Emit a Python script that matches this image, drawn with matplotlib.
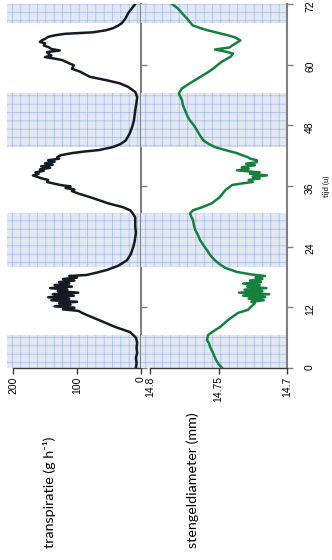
import matplotlib
matplotlib.use("Agg")
import matplotlib.pyplot as plt

# tijd (u) en transpiratie (g/h)
t_trans = [0, 1, 2, 3, 4, 5, 6, 6.5, 7.1, 8.1, 9.5, 10.5, 10.9,
           11.3, 11.6, 11.9, 12.2, 12.5, 12.8, 13.1, 13.4, 13.7, 14.0, 14.3, 14.6,
           14.9, 15.2, 15.5, 15.8, 16.1, 16.4, 16.7, 17.0, 17.3, 17.6, 17.9, 18.2,
           18.4, 18.9, 19.4, 20.2, 21.3, 22.5, 24, 25, 26.7, 28, 29.8, 30.6,
           31.2, 31.8, 32.6, 33.6, 34.2, 34.6, 35.0, 35.3, 35.6, 35.9, 36.2, 36.5,
           36.8, 37.2, 37.5, 37.8, 38.1, 38.4, 38.7, 39.0, 39.3, 39.6, 39.9, 40.2,
           40.5, 40.8, 41.1, 41.4, 41.7, 42.1, 42.5, 42.8, 43.1, 43.7, 44.3, 45,
           46.3, 47.6, 49, 51, 52.5, 53.6, 54.6,
           55.6, 56.3, 56.9, 57.6, 58.6, 59.2, 59.9, 60.2, 60.6, 60.9, 61.2, 61.5,
           61.8, 62.2, 62.5, 62.8, 63.1, 63.5, 63.8, 64.2, 64.5, 64.8, 65.1, 65.5,
           65.8, 66.1, 66.4, 66.8, 67.2, 67.7, 68.2, 69.2, 70.2, 71.2, 72]
transpiratie = [8, 7, 8, 6, 7, 6, 8, 12, 17, 40, 66, 85, 92,
                98, 122, 104, 135, 110, 128, 100, 140, 112, 145, 105, 138,
                98, 130, 115, 142, 108, 135, 112, 128, 104, 122, 100, 112,
                85, 68, 53, 36, 22, 16, 12, 10, 8, 9, 9, 13,
                17, 28, 52, 75, 90, 100, 108, 104, 118, 110, 126, 137,
                147, 145, 155, 162, 169, 160, 165, 152, 158, 142, 156, 138,
                150, 135, 145, 128, 131, 125, 108, 90, 66, 44, 32, 24,
                18, 14, 11, 9, 7, 6, 9,
                20, 33, 53, 80, 95, 108, 105, 111, 118, 123, 135, 150,
                140, 145, 147, 127, 140, 145, 152, 150, 158, 155, 150, 145,
                135, 119, 75, 55, 44, 36, 30, 24, 20, 14, 9]

# tijd (u) en stengeldiameter (mm)
t_stengel = [0, 0.8, 1.6, 2.3, 3, 3.6, 4.2, 4.9, 5.5, 6.5, 7.1, 8.1, 9.5, 10.9,
             11.5, 12.2, 12.8, 13.1, 13.4, 13.7, 14.0, 14.3, 14.6, 14.9, 15.2,
             15.5, 15.8, 16.1, 16.4, 16.7, 17.0, 17.3, 17.6, 17.9, 18.2, 18.5,
             19.0, 19.8, 20.5, 21.3, 22.3, 23.3, 24.3, 25.3, 26.3, 27.3, 28.3,
             29.2, 30.0, 30.6, 31.2, 31.8, 32.6, 33.2, 33.8, 34.5, 35.2, 35.6,
             36.2, 36.5, 36.8, 37.2, 37.5, 37.8, 38.1, 38.4, 38.7, 39.1, 39.4,
             39.7, 40.1, 40.4, 40.7, 41.1, 41.4, 41.7, 42.1, 42.5, 43.1, 43.7,
             44.3, 45, 46, 47, 48, 49, 50, 51, 52, 53, 54.3, 55.3, 56.3, 57.3,
             58.5, 59.2, 60, 60.5, 61, 61.6, 62.2, 62.6, 63, 63.4, 63.8, 64.3,
             64.8, 65.1, 65.4, 65.8, 66.2, 66.8, 67.3, 67.8, 68.8, 70.2, 71.2, 72]
stengeldiameter = [14.7474, 14.750, 14.7518, 14.753, 14.754, 14.7552, 14.7562,
                   14.757, 14.7584, 14.7577, 14.7547, 14.7489, 14.743, 14.7358,
                   14.7285, 14.726, 14.7234, 14.726, 14.717, 14.728, 14.716,
                   14.732, 14.713, 14.735, 14.718, 14.731, 14.715, 14.729, 14.72,
                   14.732, 14.719, 14.727, 14.718, 14.723, 14.716, 14.726,
                   14.7365, 14.745, 14.749, 14.7526, 14.756, 14.7584, 14.761,
                   14.7635, 14.765, 14.767, 14.768, 14.7686, 14.770, 14.7708,
                   14.7686, 14.762, 14.7547, 14.752, 14.749, 14.747, 14.745,
                   14.743, 14.74, 14.733, 14.725, 14.728, 14.72, 14.725, 14.7146,
                   14.727, 14.72, 14.7365, 14.728, 14.733, 14.7234, 14.73, 14.722,
                   14.722, 14.727, 14.7285, 14.733, 14.7365, 14.745, 14.7526,
                   14.757, 14.761, 14.7635, 14.7657, 14.768, 14.771, 14.773,
                   14.7745, 14.776, 14.7767, 14.779, 14.7767, 14.771, 14.765,
                   14.7577, 14.754, 14.7504, 14.748, 14.745, 14.741, 14.7394,
                   14.745, 14.7526, 14.742, 14.740, 14.737, 14.734, 14.736,
                   14.738, 14.743, 14.749, 14.758, 14.764, 14.769, 14.772,
                   14.7767, 14.780, 14.784]

# nachtperiodes (u)
nacht_start = [0, 20, 43.7, 68.2]
nacht_eind = [6.5, 30.6, 54.3, 72]

tijd_ticks = [0, 12, 24, 36, 48, 60, 72]

plt.rcParams['font.family'] = ['Liberation Sans', 'DejaVu Sans']
plt.rcParams['hatch.linewidth'] = 0.5

W, H = 332, 560
fig = plt.figure(figsize=(W / 100, H / 100), dpi=100)

def box(x0, x1, y0, y1):
    return [x0 / W, 1 - y1 / H, (x1 - x0) / W, (y1 - y0) / H]

ax1 = fig.add_axes(box(7, 141, 4, 368))
ax2 = fig.add_axes(box(141, 287, 4, 368))

for ax in (ax1, ax2):
    ax.set_facecolor('none')
    ax.set_ylim(0, 72)
    for a, b in zip(nacht_start, nacht_eind):
        ax.axhspan(a, b, facecolor='#dde5f4', edgecolor='#e6ecf8', hatch='++++++', lw=0, zorder=0)
        ax.axhspan(a, b, facecolor='none', edgecolor='#a9bbe3', hatch='++', lw=0, zorder=0)
    ax.spines['top'].set_visible(False)
    ax.spines['left'].set_visible(False)
    ax.spines['right'].set_color('#808080')
    ax.spines['right'].set_linewidth(1.5)
    ax.spines['bottom'].set_color('#3a3a3a')
    ax.spines['bottom'].set_linewidth(1.0)
    ax.yaxis.tick_right()
    ax.set_yticks(tijd_ticks)
    ax.tick_params(axis='y', direction='out', length=4, width=1, color='#808080', labelsize=7.5, pad=9)
    ax.tick_params(axis='x', direction='out', length=4, width=1, color='#3a3a3a', labelsize=7.5, pad=2)

ax1.plot(transpiratie, t_trans, color='#161a22', lw=1.8, zorder=3)
ax1.set_xlim(209.4, 0)
ax1.set_xticks([0, 100, 200])
ax1.set_xticklabels(['0', '100', '200'], rotation=90)
ax1.spines['bottom'].set_bounds(0, 200)
ax1.tick_params(axis='y', labelright=False)

ax2.plot(stengeldiameter, t_stengel, color='#17803f', lw=1.8, zorder=3)
ax2.set_xlim(14.8066, 14.7)
ax2.set_xticks([14.8, 14.75, 14.7])
ax2.set_xticklabels(['14.8', '14.75', '14.7'], rotation=90)
ax2.spines['bottom'].set_bounds(14.7, 14.8)
ax2.set_yticklabels([str(v) for v in tijd_ticks], rotation=90)

fig.text(49 / W, 1 - 548 / H, 'transpiratie (g h⁻¹)', rotation=90, ha='center', va='bottom',
         fontsize=10.3, family=['Lato', 'DejaVu Sans'])
fig.text(193 / W, 1 - 548 / H, 'stengeldiameter (mm)', rotation=90, ha='center', va='bottom',
         fontsize=10.3, family=['Lato', 'DejaVu Sans'])
fig.text(326 / W, 1 - 186 / H, 'tijd (u)', rotation=90, ha='center', va='center', fontsize=5.5,
         family=['Lato', 'DejaVu Sans'])

fig.savefig('out.png', dpi=100)
